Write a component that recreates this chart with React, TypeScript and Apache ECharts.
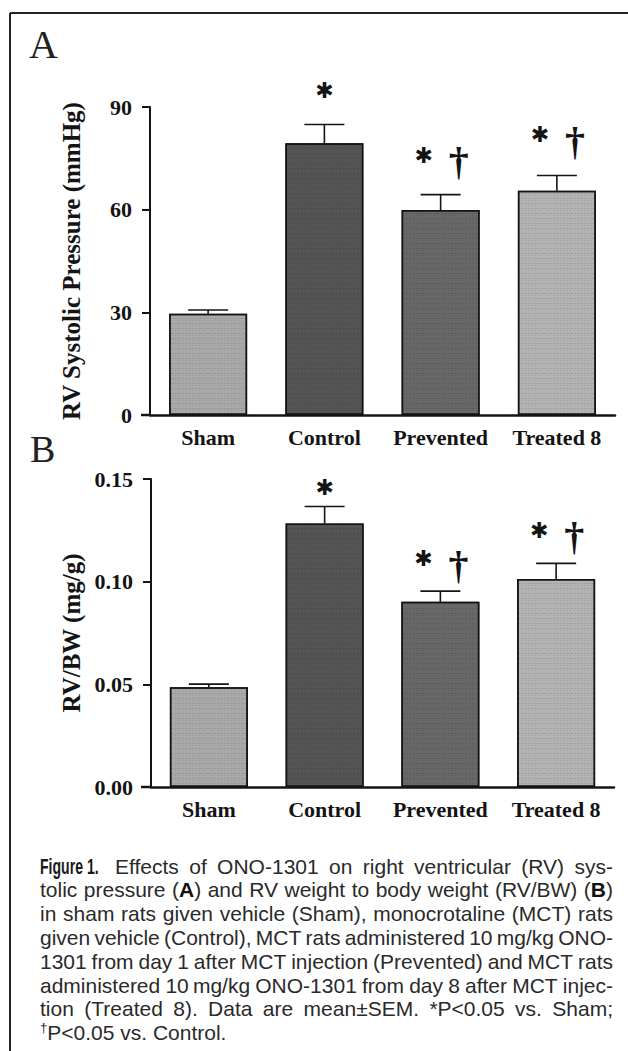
import React, { useEffect, useRef } from "react";
import * as echarts from "echarts";

// ---------- data ----------
const categories = ["Sham", "Control", "Prevented", "Treated 8"];
const rvspMean = [29.6, 79.4, 59.9, 65.5];
const rvspSem = [1.1, 5.5, 4.5, 4.5];
const rvbwMean = [0.0486, 0.1283, 0.0902, 0.1013];
const rvbwSem = [0.0015, 0.0083, 0.0052, 0.0076];
const starFlags = [false, true, true, true]; // * P<0.05 vs. Sham
const daggerFlags = [false, false, true, true]; // † P<0.05 vs. Control
const rvspAxis = { min: 0, max: 90, interval: 30 };
const rvbwAxis = { min: 0, max: 0.15, interval: 0.05 };

const captionHead = "Figure 1.";
const captionLines = [
  "Effects of ONO-1301 on right ventricular (RV) sys-",
  "tolic pressure ([A]) and RV weight to body weight (RV/BW) ([B])",
  "in sham rats given vehicle (Sham), monocrotaline (MCT) rats",
  "given vehicle (Control), MCT rats administered 10\u2009mg/kg ONO-",
  "1301 from day 1 after MCT injection (Prevented) and MCT rats",
  "administered 10\u2009mg/kg ONO-1301 from day 8 after MCT injec-",
  "tion (Treated 8). Data are mean\u00b1SEM. *P<0.05 vs. Sham;",
  "{\u2020}P<0.05 vs. Control.",
];

// ---------- styles ----------
const barColors = ["#a9a9a9", "#555555", "#686868", "#b3b3b3"];
const SERIF = "'Liberation Serif', 'Times New Roman', serif";
const SANS = "'Liberation Sans', Arial, sans-serif";
const INK = "#141414";
const starOffA = [0, -34, -39, -41];
const dagOffA = [0, 0, -33, -34];
const starOffB = [0, -19, -33, -33];
const dagOffB = [0, 0, -26, -27];

function makeAxes(gridIndex: number, range: any, name: string, nameGap: number) {
  const x = {
    type: "category",
    gridIndex,
    data: categories,
    axisLine: { show: true, lineStyle: { color: INK, width: 2.5 } },
    axisTick: { show: false },
    axisLabel: { interval: 0, fontFamily: SERIF, fontWeight: "bold", fontSize: 22, color: INK, margin: 11 },
  };
  const y = {
    type: "value",
    gridIndex,
    min: range.min,
    max: range.max,
    interval: range.interval,
    axisLine: { show: true, lineStyle: { color: INK, width: 2 } },
    axisTick: { show: true, length: 8, lineStyle: { color: INK, width: 2 } },
    splitLine: { show: false },
    axisLabel: {
      fontFamily: SERIF,
      fontWeight: "bold",
      fontSize: 22,
      color: INK,
      margin: 18,
      formatter: (v: number) => (range.max < 1 ? v.toFixed(2) : String(v)),
    },
    name,
    nameLocation: "middle",
    nameGap,
    nameTextStyle: { fontFamily: SERIF, fontWeight: "bold", fontSize: 25, color: INK },
  };
  return { x, y };
}

function errRender(params: any, api: any) {
  const i = api.value(0);
  const top = api.coord([i, api.value(1)]);
  const cap = api.coord([i, api.value(2)]);
  const hw = 20;
  return {
    type: "group",
    children: [
      { type: "line", shape: { x1: top[0], y1: top[1], x2: cap[0], y2: cap[1] }, style: { stroke: INK, lineWidth: 1.6 } },
      { type: "line", shape: { x1: cap[0] - hw, y1: cap[1], x2: cap[0] + hw, y2: cap[1] }, style: { stroke: INK, lineWidth: 1.6 } },
    ],
  };
}

function sigRender(starOff: number[], dagOff: number[]) {
  return (params: any, api: any) => {
    const i = api.value(0);
    const p = api.coord([i, api.value(1)]);
    const both = starFlags[i] && daggerFlags[i];
    const children: any[] = [];
    if (starFlags[i]) {
      children.push({
        type: "text",
        x: p[0] + (both ? -17 : 0),
        y: p[1] + starOff[i],
        style: {
          text: "\u2731",
          font: "bold 22px 'DejaVu Sans', sans-serif",
          fill: INK,
          textAlign: "center",
          textVerticalAlign: "middle",
          align: "center",
          verticalAlign: "middle",
        },
      });
    }
    if (daggerFlags[i]) {
      children.push({
        type: "text",
        x: p[0] + (both ? 18 : 0),
        y: p[1] + dagOff[i],
        style: {
          text: "\u2020",
          font: `bold 40px ${SERIF}`,
          fill: INK,
          textAlign: "center",
          textVerticalAlign: "middle",
          align: "center",
          verticalAlign: "middle",
        },
      });
    }
    return { type: "group", children };
  };
}

function buildCaption(): any[] {
  const canvas = document.createElement("canvas");
  const ctx = canvas.getContext("2d")!;
  const size = 21;
  const fontOf = (bold: boolean, sup: boolean) =>
    `${bold ? "bold " : ""}${sup ? 13 : size}px ${SANS}`;
  const measure = (t: string, f: string) => {
    ctx.font = f;
    return ctx.measureText(t).width;
  };
  const els: any[] = [];
  const top = 866;
  const lh = 23.8;
  const rightX = 613;
  els.push({
    type: "text",
    x: 40,
    y: top,
    scaleX: 0.64,
    style: { text: captionHead, font: `bold 22px ${SANS}`, fill: "#1a1a1a", textVerticalAlign: "middle", verticalAlign: "middle" },
  });
  captionLines.forEach((line, li) => {
    const leftX = li === 0 ? 115 : 40;
    const justify = li < captionLines.length - 1;
    const words = line.split(" ").map((w) => {
      const parts = w.split(/(\[[^\]]*\]|\{[^}]*\})/).filter((s) => s.length);
      const segs = parts.map((s) => {
        if (s.startsWith("[")) return { t: s.slice(1, -1), bold: true, sup: false };
        if (s.startsWith("{")) return { t: s.slice(1, -1), bold: false, sup: true };
        return { t: s, bold: false, sup: false };
      });
      const widths = segs.map((s) => measure(s.t, fontOf(s.bold, s.sup)));
      return { segs, widths, w: widths.reduce((a, b) => a + b, 0) };
    });
    const total = words.reduce((a, b) => a + b.w, 0);
    const gap = justify && words.length > 1 ? (rightX - leftX - total) / (words.length - 1) : measure(" ", fontOf(false, false));
    let x = leftX;
    const y = top + li * lh;
    words.forEach((wd) => {
      let sx = x;
      wd.segs.forEach((s, k) => {
        els.push({
          type: "text",
          x: sx,
          y: s.sup ? y - 5 : y,
          style: {
            text: s.t,
            font: fontOf(s.bold, s.sup),
            fill: s.bold ? "#111" : "#2a2a2a",
            textVerticalAlign: "middle",
            verticalAlign: "middle",
          },
        });
        sx += wd.widths[k];
      });
      x += wd.w + gap;
    });
  });
  return els;
}

export default function App() {
  const ref = useRef<HTMLDivElement>(null);
  useEffect(() => {
    const el = ref.current!;
    const chart = echarts.init(el, null, { renderer: "svg" });
    const a = makeAxes(0, rvspAxis, "RV Systolic Pressure (mmHg)", 66);
    const b = makeAxes(1, rvbwAxis, "RV/BW (mg/g)", 66);
    const decal = {
      symbol: "rect",
      symbolSize: 1,
      color: "rgba(0,0,0,0.10)",
      dashArrayX: [[1, 2, 1, 3], [2, 1, 3, 1]],
      dashArrayY: [1, 2, 1, 1],
      rotation: 0,
    };
    const barSeries = (idx: number, means: number[]) => ({
      type: "bar",
      xAxisIndex: idx,
      yAxisIndex: idx,
      barWidth: 78,
      data: means.map((v, i) => ({ value: v, itemStyle: { color: barColors[i], decal } })),
      itemStyle: { borderColor: INK, borderWidth: 1.5 },
      z: 2,
    });
    const errSeries = (idx: number, means: number[], sems: number[]) => ({
      type: "custom",
      xAxisIndex: idx,
      yAxisIndex: idx,
      renderItem: errRender,
      data: means.map((m, i) => [i, m, m + sems[i]]),
      z: 3,
      clip: false,
    });
    const sigSeries = (idx: number, means: number[], sems: number[], so: number[], d: number[]) => ({
      type: "custom",
      xAxisIndex: idx,
      yAxisIndex: idx,
      renderItem: sigRender(so, d),
      data: means.map((m, i) => [i, m + sems[i]]),
      z: 4,
      clip: false,
    });
    const option: any = {
      animation: false,
      backgroundColor: "#ffffff",
      grid: [
        { left: 150, top: 107, width: 465, height: 308 },
        { left: 151, top: 479, width: 463, height: 308 },
      ],
      xAxis: [a.x, b.x],
      yAxis: [a.y, b.y],
      series: [
        barSeries(0, rvspMean),
        errSeries(0, rvspMean, rvspSem),
        sigSeries(0, rvspMean, rvspSem, starOffA, dagOffA),
        barSeries(1, rvbwMean),
        errSeries(1, rvbwMean, rvbwSem),
        sigSeries(1, rvbwMean, rvbwSem, starOffB, dagOffB),
      ],
      graphic: [
        { type: "line", shape: { x1: 10, y1: 13, x2: 628, y2: 13 }, style: { stroke: "#222", lineWidth: 2 } },
        { type: "line", shape: { x1: 10, y1: 13, x2: 10, y2: 1051 }, style: { stroke: "#222", lineWidth: 2 } },
        { type: "line", shape: { x1: 141, y1: 415, x2: 151, y2: 415 }, style: { stroke: INK, lineWidth: 2.5 } },
        { type: "line", shape: { x1: 141, y1: 787, x2: 152, y2: 787 }, style: { stroke: INK, lineWidth: 2.5 } },
        { type: "text", x: 29, y: 64, style: { text: "A", font: `40px ${SERIF}`, fill: "#222", textVerticalAlign: "bottom", verticalAlign: "bottom" } },
        { type: "text", x: 30, y: 468, style: { text: "B", font: `38px ${SERIF}`, fill: "#222", textVerticalAlign: "bottom", verticalAlign: "bottom" } },
        ...buildCaption(),
      ],
    };
    chart.setOption(option);
    return () => chart.dispose();
  }, []);
  return (
    <div
      ref={ref}
      style={{ position: "absolute", left: 0, top: 0, width: 628, height: 1051, background: "#fff" }}
    />
  );
}
